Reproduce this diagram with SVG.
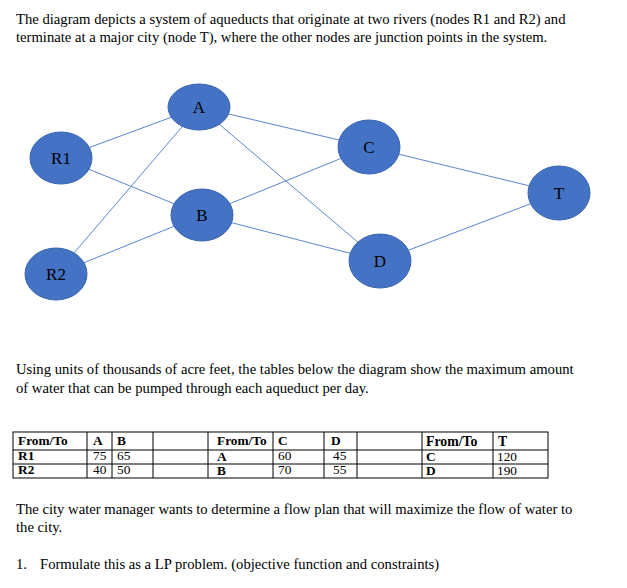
<svg xmlns="http://www.w3.org/2000/svg" width="627" height="588" viewBox="0 0 627 588">
<style>
.t{font-family:"Liberation Serif","Times New Roman",serif;font-size:14.67px;fill:#000}
.n{fill:#4472C4;stroke:#3A64AE;stroke-width:1}
.nl{font-family:"Liberation Serif","Times New Roman",serif;font-size:17px;fill:#000;text-anchor:middle}
.e{stroke:#5B86D0;stroke-width:1;fill:none}
.tb{font-family:"Liberation Serif","Times New Roman",serif;font-size:13.33px;fill:#000}
.tc{font-size:13.8px}
.b{font-weight:bold}
.g{stroke:#000;stroke-width:1;fill:none}
</style>
<rect width="627" height="588" fill="#fff"/>
<text class="t" x="16" y="23.5">The diagram depicts a system of aqueducts that originate at two rivers (nodes R1 and R2) and</text>
<text class="t" x="16" y="42">terminate at a major city (node T), where the other nodes are junction points in the system.</text>
<g id="connectors">
<line class="e" x1="61" y1="158" x2="199" y2="107"/>
<line class="e" x1="61" y1="158" x2="202" y2="215"/>
<line class="e" x1="56" y1="274" x2="199" y2="107"/>
<line class="e" x1="56" y1="274" x2="202" y2="215"/>
<line class="e" x1="199" y1="107" x2="369" y2="147"/>
<line class="e" x1="199" y1="107" x2="380" y2="261"/>
<line class="e" x1="202" y1="215" x2="369" y2="147"/>
<line class="e" x1="202" y1="215" x2="380" y2="261"/>
<line class="e" x1="369" y1="147" x2="559" y2="193"/>
<line class="e" x1="380" y1="261" x2="559" y2="193"/>
</g>
<g id="node-A"><ellipse class="n" cx="199" cy="107" rx="31" ry="23"/><text class="nl" x="199" y="113">A</text></g>
<g id="node-R1"><ellipse class="n" cx="61" cy="158" rx="31" ry="26"/><text class="nl" x="61" y="164">R1</text></g>
<g id="node-B"><ellipse class="n" cx="202" cy="215" rx="31" ry="26"/><text class="nl" x="202" y="221">B</text></g>
<g id="node-R2"><ellipse class="n" cx="56" cy="274" rx="31" ry="26"/><text class="nl" x="56" y="280">R2</text></g>
<g id="node-C"><ellipse class="n" cx="369" cy="147" rx="31" ry="27"/><text class="nl" x="369" y="153">C</text></g>
<g id="node-T"><ellipse class="n" cx="559" cy="193" rx="31" ry="27"/><text class="nl" x="559" y="199">T</text></g>
<g id="node-D"><ellipse class="n" cx="380" cy="261" rx="31" ry="27"/><text class="nl" x="380" y="267">D</text></g>
<text class="t" x="16" y="374">Using units of thousands of acre feet, the tables below the diagram show the maximum amount</text>
<text class="t" x="16" y="392.5">of water that can be pumped through each aqueduct per day.</text>
<g id="table">
<rect class="g" x="13" y="432" width="535" height="46"/>
<line class="g" x1="13" y1="450" x2="548" y2="450"/>
<line class="g" x1="13" y1="464" x2="548" y2="464"/>
<line class="g" x1="87" y1="432" x2="87" y2="478"/>
<line class="g" x1="112" y1="432" x2="112" y2="478"/>
<line class="g" x1="153" y1="432" x2="153" y2="478"/>
<line class="g" x1="208" y1="432" x2="208" y2="478"/>
<line class="g" x1="273" y1="432" x2="273" y2="478"/>
<line class="g" x1="324" y1="432" x2="324" y2="478"/>
<line class="g" x1="357" y1="432" x2="357" y2="478"/>
<line class="g" x1="422" y1="432" x2="422" y2="478"/>
<line class="g" x1="493" y1="432" x2="493" y2="478"/>
<text class="tb b" x="18" y="445">From/To</text>
<text class="tb b" x="93" y="445">A</text>
<text class="tb b" x="117" y="445">B</text>
<text class="tb b" x="217" y="445">From/To</text>
<text class="tb b" x="278" y="445">C</text>
<text class="tb b" x="331" y="445">D</text>
<text class="tb b tc" x="426" y="445.5">From/To</text>
<text class="tb b tc" x="498" y="445.5">T</text>
<text class="tb b" x="18" y="460">R1</text>
<text class="tb" x="93" y="460">75</text>
<text class="tb" x="117" y="460">65</text>
<text class="tb b" x="217" y="461">A</text>
<text class="tb" x="278" y="460">60</text>
<text class="tb" x="333" y="460">45</text>
<text class="tb b" x="426" y="461">C</text>
<text class="tb" x="497" y="461">120</text>
<text class="tb b" x="18" y="474">R2</text>
<text class="tb" x="93" y="474">40</text>
<text class="tb" x="117" y="474">50</text>
<text class="tb b" x="217" y="475">B</text>
<text class="tb" x="278" y="474">70</text>
<text class="tb" x="333" y="474">55</text>
<text class="tb b" x="426" y="475">D</text>
<text class="tb" x="497" y="475">190</text>
</g>
<text class="t" x="16" y="514">The city water manager wants to determine a flow plan that will maximize the flow of water to</text>
<text class="t" x="16" y="532">the city.</text>
<text class="t" x="16" y="569">1.</text>
<text class="t" x="40" y="569">Formulate this as a LP problem. (objective function and constraints)</text>
</svg>
